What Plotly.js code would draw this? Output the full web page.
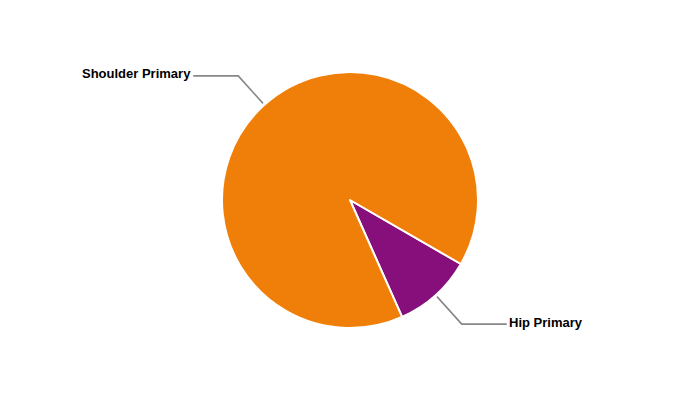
<!DOCTYPE html>
<html>
<head>
<meta charset="utf-8">
<script src="https://cdn.plot.ly/plotly-3.0.1.min.js"></script>
<style>
  html, body { margin: 0; padding: 0; background: #ffffff; }
  #chart { width: 700px; height: 400px; }
</style>
</head>
<body>
<div id="chart"></div>
<script>
// Joint categories and their shares
const categories = ['Hip Primary', 'Shoulder Primary'];
const values = [10, 90];
const sliceColors = ['#870F7B', '#F07F09'];

// Layout geometry (pixels)
const W = 700, H = 400;
const M = { l: 80, r: 80, t: 72, b: 72 };
const plotW = W - M.l - M.r, plotH = H - M.t - M.b;
const cx = M.l + plotW / 2, cy = M.t + plotH / 2;
const R = Math.min(plotW, plotH) / 2;
const rotationDeg = 120;

// pixel -> paper helpers
const px = x => (x - M.l) / plotW;
const py = y => 1 - (y - M.t) / plotH;

// leader lines + labels computed from each slice's mid-angle (clockwise from 12 o'clock)
const total = values.reduce((a, b) => a + b, 0);
const shapes = [], annotations = [];
let start = rotationDeg;
values.forEach((v, i) => {
  const span = v / total * 360;
  const mid = (start + span / 2) * Math.PI / 180;
  start += span;
  const sx = Math.sin(mid), sy = -Math.cos(mid);
  const x1 = cx + sx * (R + 2), y1 = cy + sy * (R + 2);
  const x2 = cx + sx * (R + 39), y2 = cy + sy * (R + 39);
  const dir = sx >= 0 ? 1 : -1;
  const x3 = x2 + dir * 45, y3 = y2;
  shapes.push({
    type: 'path', xref: 'paper', yref: 'paper',
    path: `M${px(x1)},${py(y1)} L${px(x2)},${py(y2)} L${px(x3)},${py(y3)}`,
    line: { color: '#878787', width: 1.6 }
  });
  annotations.push({
    xref: 'paper', yref: 'paper',
    x: px(x3), y: py(y3 - 2),
    xanchor: dir > 0 ? 'left' : 'right', yanchor: 'middle',
    text: '<b>' + categories[i] + '</b>', showarrow: false,
    font: { family: 'Liberation Sans, Arial, sans-serif', size: 13, color: '#000000' }
  });
});

const trace = {
  type: 'pie',
  labels: categories,
  values: values,
  sort: false,
  direction: 'clockwise',
  rotation: rotationDeg,
  marker: { colors: sliceColors, line: { color: '#ffffff', width: 2 } },
  textinfo: 'none',
  hoverinfo: 'label+value+percent',
  showlegend: false
};

const layout = {
  width: W, height: H,
  margin: M,
  paper_bgcolor: '#ffffff',
  plot_bgcolor: '#ffffff',
  showlegend: false,
  shapes: shapes,
  annotations: annotations
};

Plotly.newPlot('chart', [trace], layout, { displayModeBar: false, staticPlot: true });
</script>
</body>
</html>
